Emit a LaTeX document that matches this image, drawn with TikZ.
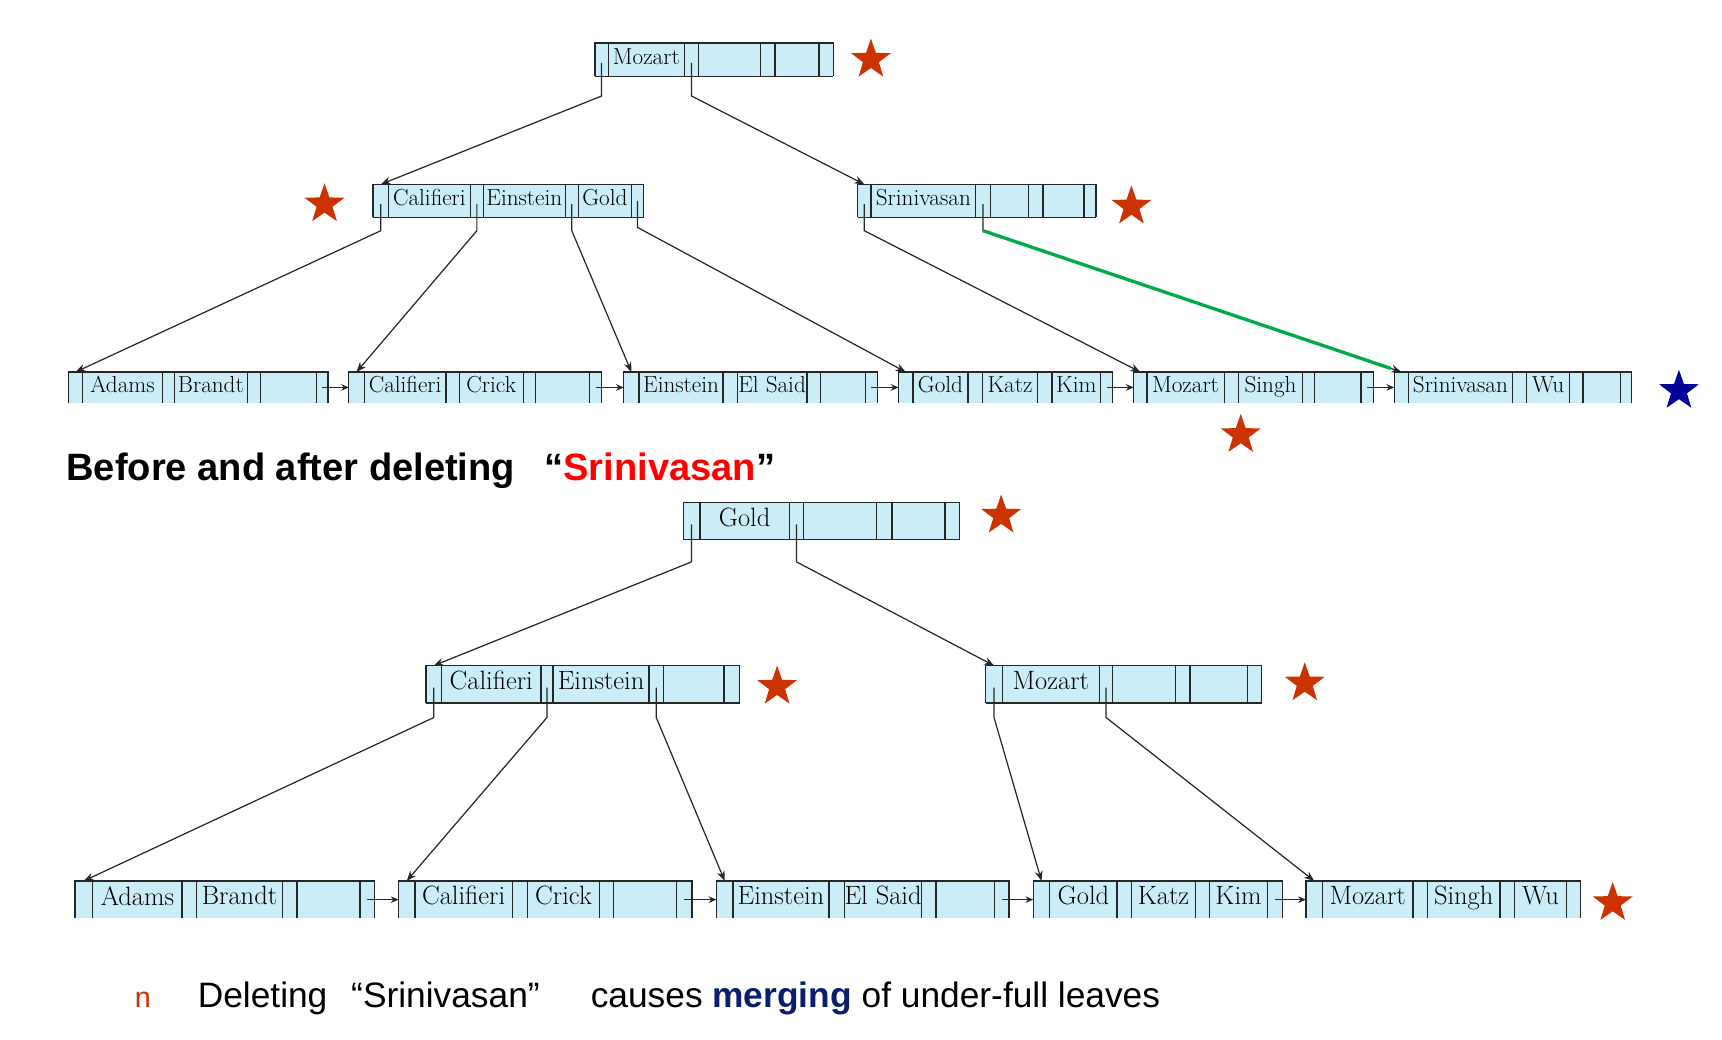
\documentclass[tikz,border=0pt]{standalone}
\usepackage{fontspec}
\newfontfamily\sans{Liberation Sans}
\usetikzlibrary{shapes.geometric,arrows.meta}
\definecolor{cellblue}{HTML}{CBEDF8}
\definecolor{starred}{HTML}{CC3300}
\definecolor{starblue}{HTML}{000099}
\definecolor{navy}{HTML}{0A1F6B}
\definecolor{linegreen}{HTML}{00AA44}
\tikzset{
  cell/.style={fill=cellblue},
  bline/.style={line width=1.2pt,black!85},
  ptr/.style={line width=1.1pt,black!85,-{Stealth[length=9pt,width=7pt]}},
  nxt/.style={line width=1.1pt,black!85,-{Stealth[length=7pt,width=6pt]}},
  rstar/.style={star,star points=5,star point ratio=2.5,fill=starred,minimum size=38pt,inner sep=0pt},
  bstar/.style={rstar,fill=starblue},
  keytop/.style={font=\fontsize{21}{21}\selectfont,inner sep=0pt},
  keybot/.style={font=\fontsize{24}{24}\selectfont,inner sep=0pt},
  keyA/.style={keytop},
  txt/.style={font=\sans\fontsize{32}{32}\selectfont,inner sep=0pt,anchor=base west},
  ttl/.style={txt,font=\sans\bfseries\fontsize{34.5}{34.5}\selectfont},
}
\def\parsebnd#1/#2/#3/#4/#5/#6/#7/#8\relax{\def\xa{#1}\def\xb{#2}\def\xc{#3}\def\xd{#4}\def\xe{#5}\def\xf{#6}\def\xg{#7}\def\xh{#8}}
\def\parsekeys#1/#2/#3\relax{\def\ka{#1}\def\kb{#2}\def\kc{#3}}
% #1 name, #2 ytop, #3 ybot, #4 boundaries, #5 keys, #6 closed(1)/open(0)
\newcommand\bnode[6]{%
  \def\yt{#2}\def\yb{#3}%
  \parsebnd#4\relax\parsekeys#5\relax
  \fill[cell] (\xa,\yt) rectangle (\xh,\yb);
  \draw[bline] (\xa,\yb) -- (\xa,\yt) -- (\xh,\yt) -- (\xh,\yb);
  \ifnum#6=1 \draw[bline] (\xa,\yb) -- (\xh,\yb);\fi
  \foreach \v in {\xb,\xc,\xd,\xe,\xf,\xg} \draw[bline] (\v,\yt) -- (\v,\yb);
  \node[keyA] (#1-k1) at ({(\xb+\xc)/2},{(\yt+\yb)/2}) {\strut\ka};
  \node[keyA] (#1-k2) at ({(\xd+\xe)/2},{(\yt+\yb)/2}) {\strut\kb};
  \node[keyA] (#1-k3) at ({(\xf+\xg)/2},{(\yt+\yb)/2}) {\strut\kc};
  \coordinate (#1-p0) at ({(\xa+\xb)/2},{(\yt+\yb)/2+3});
  \coordinate (#1-p1) at ({(\xc+\xd)/2},{(\yt+\yb)/2+3});
  \coordinate (#1-p2) at ({(\xe+\xf)/2},{(\yt+\yb)/2+3});
  \coordinate (#1-p3) at ({(\xg+\xh)/2},{(\yt+\yb)/2});
  \coordinate (#1-in) at ({(\xa+\xb)/2},\yt);
  \coordinate (#1-left) at (\xa,{(\yt+\yb)/2});
}
\begin{document}
\begin{tikzpicture}[x=1pt,y=-1pt]
\useasboundingbox (0,0) rectangle (1560,942);
\fill[white] (0,0) rectangle (1560,942);
% ---------- top tree ----------
\bnode{R}{39}{69}{539/551/620/633/689/702/742/755}{Mozart//}{1}
\bnode{IL}{167}{197}{338/352/426/438/512/524/572/583}{Califieri/Einstein/Gold}{1}
\bnode{IR}{167}{197}{777/789/884/897/932/945/982/993}{Srinivasan//}{1}
\bnode{LA}{337}{365}{62/75/147/158/224/236/287/297}{Adams/Brandt/}{0}
\bnode{LB}{337}{365}{316/330/404/416/474/485/534/545}{Califieri/Crick/}{0}
\bnode{LC}{337}{365}{565/579/655/668/731/743/784/795}{Einstein/El Said/}{0}
\bnode{LD}{337}{365}{814/827/877/890/940/953/997/1008}{Gold/Katz/Kim}{0}
\bnode{LE}{337}{365}{1027/1039/1109/1122/1180/1191/1233/1244}{Mozart/Singh/}{0}
\bnode{LF}{337}{365}{1263/1276/1370/1383/1422/1434/1468/1478}{Srinivasan/Wu/}{0}
\draw[ptr] (R-p0) -- ++(0,30) -- (IL-in);
\draw[ptr] (R-p1) -- ++(0,30) -- (IR-in);
\draw[ptr] (IL-p0) -- ++(0,24) -- (LA-in);
\draw[ptr] (IL-p1) -- ++(0,24) -- (LB-in);
\draw[ptr] (IL-p2) -- ++(0,24) -- (LC-in);
\draw[ptr] (IL-p3) -- ++(0,24) -- (LD-in);
\draw[ptr] (IR-p0) -- ++(0,24) -- (LE-in);
\draw[ptr] (IR-p1) -- ++(0,24) coordinate (gs) -- (LF-in);
\draw[line width=3pt,linegreen,shorten >=10pt] (gs) -- (LF-in);
\draw[nxt] (LA-p3) -- (LB-left);
\draw[nxt] (LB-p3) -- (LC-left);
\draw[nxt] (LC-p3) -- (LD-left);
\draw[nxt] (LD-p3) -- (LE-left);
\draw[nxt] (LE-p3) -- (LF-left);
\node[rstar] (s1) at (789,54) {};
\node[rstar] (s2) at (294,185) {};
\node[rstar] (s3) at (1025,187) {};
\node[rstar] (s4) at (1124,394) {};
\node[bstar] (s5) at (1521,354) {};
% ---------- title ----------
\node[ttl] (t1) at (60,435) {Before and after deleting};
\node[ttl] (t2) at (493,435) {“\textcolor{red}{Srinivasan}”};
% ---------- bottom tree ----------
\begin{scope}[keyA/.style={keybot}]
\bnode{R2}{455}{489}{619/634/715/728/794/808/856/869}{Gold//}{1}
\bnode{JL}{603}{637}{386/400/490/501/588/601/656/670}{Califieri/Einstein/}{1}
\bnode{JR}{603}{637}{893/908/996/1008/1065/1078/1130/1143}{Mozart//}{1}
\bnode{MA}{798}{832}{68/84/165/178/256/269/326/339}{Adams/Brandt/}{0}
\bnode{MB}{798}{832}{361/376/464/478/543/556/613/627}{Califieri/Crick/}{0}
\bnode{MC}{798}{832}{649/664/751/765/835/848/901/914}{Einstein/El Said/}{0}
\bnode{MD}{798}{832}{936/951/1012/1025/1083/1096/1148/1162}{Gold/Katz/Kim}{0}
\bnode{ME}{798}{832}{1183/1198/1280/1293/1359/1372/1419/1432}{Mozart/Singh/Wu}{0}
\end{scope}
\draw[ptr] (R2-p0) -- ++(0,34) -- (JL-in);
\draw[ptr] (R2-p1) -- ++(0,34) -- (JR-in);
\draw[ptr] (JL-p0) -- ++(0,27) -- (MA-in);
\draw[ptr] (JL-p1) -- ++(0,27) -- (MB-in);
\draw[ptr] (JL-p2) -- ++(0,27) -- (MC-in);
\draw[ptr] (JR-p0) -- ++(0,27) -- (MD-in);
\draw[ptr] (JR-p1) -- ++(0,27) -- (ME-in);
\draw[nxt] (MA-p3) -- (MB-left);
\draw[nxt] (MB-p3) -- (MC-left);
\draw[nxt] (MC-p3) -- (MD-left);
\draw[nxt] (MD-p3) -- (ME-left);
\node[rstar] (s6) at (907,467) {};
\node[rstar] (s7) at (704,622) {};
\node[rstar] (s8) at (1182,619) {};
\node[rstar] (s9) at (1461,818) {};
% ---------- bullet ----------
\node[txt,text=starred,font=\sans\fontsize{26}{26}\selectfont] (b0) at (122,913) {n};
\node[txt] (b1) at (179,913) {Deleting};
\node[txt] (b2) at (318,913) {“Srinivasan”};
\node[txt] (b3) at (535,913) {causes \textcolor{navy}{\bfseries merging} of under-full leaves};
\end{tikzpicture}
\end{document}
